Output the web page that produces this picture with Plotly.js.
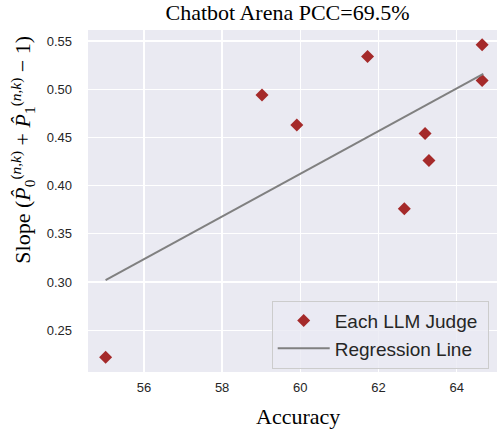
<!DOCTYPE html>
<html>
<head>
<meta charset="utf-8">
<script src="https://cdn.plot.ly/plotly-3.0.1.min.js"></script>
<style>
  html, body { margin: 0; padding: 0; background: #ffffff; }
  #chart { width: 497px; height: 437px; }
</style>
</head>
<body>
<div id="chart"></div>
<script>
// Judge accuracy (x) vs. slope of the estimated confusion terms (y)
const judgeAccuracy = [55.02, 59.02, 59.91, 61.72, 62.66, 63.19, 63.29, 64.65, 64.65];
const judgeSlope    = [0.222, 0.494, 0.463, 0.534, 0.376, 0.454, 0.426, 0.546, 0.509];

// Fitted regression line endpoints
const fitAccuracy = [55.02, 64.68];
const fitSlope    = [0.302, 0.516];

const xTicks = [56, 58, 60, 62, 64];
const yTicks = [0.25, 0.30, 0.35, 0.40, 0.45, 0.50, 0.55];

const serif = 'Liberation Serif, Times New Roman, serif';
const sans = 'Liberation Sans, Arial, sans-serif';
const textColor = '#262626';

// plot area in pixels: left 88, right 497, top 30, bottom 372
const px = v => (v - 88) / 409;
const py = v => (372 - v) / 342;

const traces = [
  {
    x: judgeAccuracy,
    y: judgeSlope,
    mode: 'markers',
    type: 'scatter',
    name: 'Each LLM Judge\u00a0',
    marker: { symbol: 'diamond', size: 10, color: '#a52a2a' },
    cliponaxis: false
  },
  {
    x: fitAccuracy,
    y: fitSlope,
    mode: 'lines',
    type: 'scatter',
    name: 'Regression Line',
    line: { color: '#808080', width: 2 }
  }
];

const layout = {
  width: 497,
  height: 437,
  margin: { l: 88, r: 0, t: 30, b: 65 },
  paper_bgcolor: '#ffffff',
  plot_bgcolor: '#eaeaf2',
  title: {
    text: 'Chatbot Arena PCC=69.5%',
    font: { family: serif, size: 22, color: '#000000' },
    xref: 'container',
    x: 0.5785,
    xanchor: 'center',
    yref: 'container',
    y: 0.972,
    yanchor: 'middle'
  },
  xaxis: {
    range: [54.57, 65.03],
    tickvals: xTicks,
    ticktext: xTicks.map(String),
    showgrid: true,
    gridcolor: '#ffffff',
    gridwidth: 1.3,
    zeroline: false,
    showline: false,
    ticks: '',
    ticklabelstandoff: 6,
    tickfont: { family: sans, size: 13, color: textColor }
  },
  yaxis: {
    range: [0.2067, 0.5614],
    tickvals: yTicks,
    ticktext: yTicks.map(v => v.toFixed(2)),
    showgrid: true,
    gridcolor: '#ffffff',
    gridwidth: 1.3,
    zeroline: false,
    showline: false,
    ticks: '',
    ticklabelstandoff: 15,
    tickfont: { family: sans, size: 13, color: textColor }
  },
  annotations: [
    {
      text: 'Slope (<i>P̂</i><sub>0</sub><sup>(<i>n,k</i>)</sup> + <i>P̂</i><sub>1</sub><sup>(<i>n,k</i>)</sup> − 1)',
      textangle: -90,
      font: { family: serif, size: 22, color: '#000000' },
      xref: 'paper',
      yref: 'paper',
      x: px(21.7),
      y: py(150),
      xanchor: 'center',
      yanchor: 'middle',
      showarrow: false
    },
    {
      text: 'Accuracy',
      font: { family: serif, size: 22, color: '#000000' },
      xref: 'paper',
      yref: 'paper',
      x: px(297.8),
      y: py(416.5),
      xanchor: 'center',
      yanchor: 'middle',
      showarrow: false
    }
  ],
  legend: {
    x: px(271.7),
    y: py(300.7),
    xanchor: 'left',
    yanchor: 'top',
    bgcolor: 'rgba(234,234,242,0.8)',
    bordercolor: '#cccccc',
    borderwidth: 1,
    font: { family: sans, size: 19, color: textColor },
    itemwidth: 52
  },
  showlegend: true
};

Plotly.newPlot('chart', traces, layout, { displayModeBar: false, staticPlot: true });
</script>
</body>
</html>
